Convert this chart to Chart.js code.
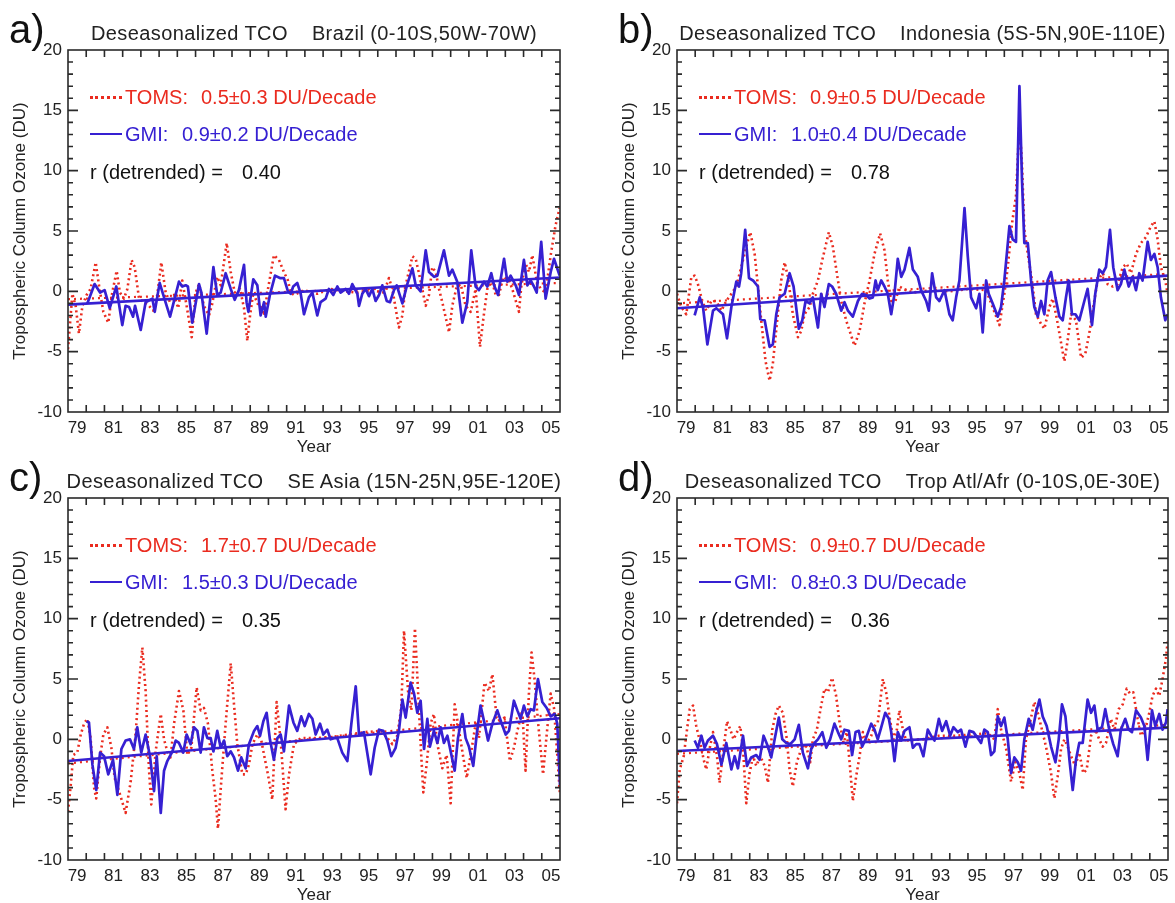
<!DOCTYPE html>
<html>
<head>
<meta charset="utf-8">
<title>Deseasonalized TCO</title>
<script src="https://cdn.jsdelivr.net/npm/chart.js@4.4.1/dist/chart.umd.min.js"></script>
<style>
  html, body { margin: 0; padding: 0; background: #fff; }
  #page { position: relative; width: 1175px; height: 903px; overflow: hidden;
          font-family: "Liberation Sans", Arial, Helvetica, sans-serif; }
  canvas { position: absolute; }
  .letter { position: absolute; font-size: 40px; line-height: 40px; color: #111; }
  .title { position: absolute; font-size: 20px; line-height: 24px; color: #222; white-space: pre;
           transform: translateX(-50%); letter-spacing: 0.4px; }
  .title span + span { margin-left: 24px; }
  .txt { position: absolute; font-size: 20px; line-height: 24px; height: 24px; white-space: pre; }
  .sample { position: absolute; width: 32px; height: 0; }
</style>
</head>
<body>
<div id="page"></div>
<script>
// x axis: tick labels sit in the middle of the year
var xTickPos = [1979.5, 1981.5, 1983.5, 1985.5, 1987.5, 1989.5, 1991.5, 1993.5, 1995.5, 1997.5, 1999.5, 2001.5, 2003.5, 2005.5];
var xTickText = ['79', '81', '83', '85', '87', '89', '91', '93', '95', '97', '99', '01', '03', '05'];

// a) Brazil
var brazilGmi = [[1980.06,-1.0],[1980.46,0.6],[1980.76,-0.1],[1981.01,0.1],[1981.29,-1.4],[1981.65,0.4],[1981.98,-2.8],[1982.16,-1.2],[1982.35,-1.3],[1982.57,-2.1],[1982.68,-1.2],[1982.99,-3.2],[1983.26,-0.9],[1983.63,-0.6],[1983.76,-1.7],[1984.03,0.7],[1984.27,-0.5],[1984.6,-2.1],[1985.09,0.8],[1985.27,0.4],[1985.46,0.5],[1985.58,0.4],[1985.82,-2.6],[1986.19,0.6],[1986.32,-0.1],[1986.61,-3.5],[1986.98,2.0],[1987.19,-0.3],[1987.38,-0.1],[1987.65,1.5],[1987.93,0.2],[1988.15,-0.7],[1988.38,0.1],[1988.66,2.2],[1988.8,-0.9],[1988.9,-1.7],[1989.17,1.0],[1989.39,0.5],[1989.57,-2.0],[1989.76,-0.9],[1989.85,-2.1],[1990.08,-0.3],[1990.36,1.3],[1990.63,1.1],[1990.85,1.1],[1991.07,0],[1991.22,-0.2],[1991.36,0.4],[1991.58,0.7],[1991.77,-0.2],[1991.95,-1.9],[1992.22,-0.5],[1992.41,-0.1],[1992.68,-2.0],[1992.86,-0.9],[1993.14,-0.6],[1993.32,0.2],[1993.56,-0.3],[1993.78,0.4],[1993.96,-0.1],[1994.24,0.2],[1994.42,-0.2],[1994.6,0.6],[1994.88,-0.2],[1994.97,-1.2],[1995.15,-0.2],[1995.33,0.2],[1995.52,-0.4],[1995.7,0.2],[1995.88,-0.8],[1996.07,-0.3],[1996.25,0.5],[1996.49,-0.8],[1996.67,-0.9],[1996.89,0.1],[1997.04,0.5],[1997.35,-1.0],[1997.62,0.6],[1997.9,1.9],[1998.08,0.5],[1998.35,0],[1998.63,3.4],[1998.81,1.6],[1999.09,1.2],[1999.27,1.3],[1999.63,3.4],[1999.91,1.3],[2000.09,1.8],[2000.36,0.8],[2000.64,-2.6],[2000.91,-0.9],[2001.13,3.4],[2001.37,0.4],[2001.55,0.1],[2001.83,0.8],[2002.01,0.4],[2002.23,1.5],[2002.38,0.5],[2002.6,-0.3],[2002.93,2.7],[2003.11,0.8],[2003.29,1.3],[2003.57,0.5],[2003.75,-0.3],[2004.02,2.6],[2004.21,0.5],[2004.39,0.9],[2004.57,0.4],[2004.72,-0.1],[2004.97,4.1],[2005.21,-0.6],[2005.49,1.6],[2005.67,2.7],[2005.98,1.3]];
var brazilToms = [[1979.0,-4.8],[1979.24,-0.2],[1979.42,-1.2],[1979.6,-3.5],[1979.79,-1.2],[1980.02,-0.3],[1980.24,0.2],[1980.52,2.4],[1980.7,0.5],[1980.94,-1.7],[1981.21,-2.6],[1981.43,-0.1],[1981.67,1.7],[1981.85,-0.1],[1982.07,-0.6],[1982.26,0.2],[1982.49,2.6],[1982.66,2.0],[1982.9,-0.6],[1983.17,-0.9],[1983.44,-1.2],[1983.68,-1.6],[1983.9,-0.3],[1984.12,2.4],[1984.36,-0.1],[1984.6,-0.9],[1984.82,-0.3],[1985.05,-1.4],[1985.27,0.9],[1985.51,-1.2],[1985.79,-3.8],[1986.01,-0.1],[1986.19,0.6],[1986.46,-1.2],[1986.74,-2.0],[1986.92,-1.0],[1987.19,1.2],[1987.38,0.5],[1987.71,4.0],[1987.93,1.6],[1988.15,-0.1],[1988.44,0.2],[1988.66,-1.4],[1988.84,-4.1],[1988.99,-2.0],[1989.17,-0.1],[1989.39,-1.0],[1989.61,-1.2],[1989.76,-2.0],[1989.94,-0.1],[1990.3,3.0],[1990.58,2.6],[1990.85,1.6],[1991.07,0.9],[1991.22,-0.1],[1991.4,-0.3],[1991.95,0.1],[1992.68,-0.2],[1993.41,0.2],[1994.15,0],[1994.88,-0.1],[1995.61,0.1],[1996.34,-0.1],[1996.61,1.1],[1996.8,0.2],[1997.16,-3.0],[1997.35,-2.0],[1997.53,0.5],[1997.9,2.9],[1998.08,2.7],[1998.26,1.5],[1998.44,0.2],[1998.63,-1.2],[1998.81,-0.3],[1998.99,2.0],[1999.18,1.6],[1999.36,0.2],[1999.54,-0.9],[1999.91,-3.4],[2000.09,-1.2],[2000.33,0.4],[2000.55,0.6],[2000.82,-1.2],[2001.1,-1.7],[2001.37,0.2],[2001.61,-4.6],[2001.79,-2.3],[2002.01,0.2],[2002.28,0.8],[2002.47,-0.3],[2002.65,-0.3],[2002.89,1.2],[2003.2,0.9],[2003.38,0.2],[2003.75,-1.7],[2003.88,0.5],[2004.11,2.3],[2004.3,1.6],[2004.48,3.0],[2004.72,0.9],[2004.94,0.2],[2005.21,-0.1],[2005.49,3.0],[2005.76,5.5],[2005.98,6.9]];
var brazilGmiTrend = [[1979, -1.1], [2006, 1.15]];
var brazilTomsTrend = [[1979, -0.65], [2006, 0.7]];

// b) Indonesia
var indonesiaGmi = [[1979.97,-2.0],[1980.25,-0.5],[1980.43,-1.3],[1980.67,-4.4],[1980.98,-1.6],[1981.16,-1.4],[1981.53,-1.9],[1981.75,-3.9],[1981.99,-1.3],[1982.26,0.8],[1982.41,0.4],[1982.53,1.5],[1982.75,5.1],[1982.96,1.1],[1983.18,0.9],[1983.45,0.4],[1983.58,-2.3],[1983.82,-2.4],[1984.09,-4.6],[1984.27,-4.4],[1984.46,-1.9],[1984.64,-0.5],[1984.92,-0.2],[1985.19,1.5],[1985.41,0.4],[1985.7,-3.1],[1985.89,-2.4],[1986.07,-0.8],[1986.29,-1.0],[1986.47,-0.5],[1986.75,-3.0],[1986.93,-0.2],[1987.11,-1.3],[1987.35,0.6],[1987.53,0.4],[1987.75,-0.2],[1988.03,-1.6],[1988.21,-0.9],[1988.4,-1.6],[1988.67,-2.1],[1988.95,-0.8],[1989.18,-0.2],[1989.4,-0.3],[1989.59,-0.6],[1989.77,-0.5],[1989.92,0.9],[1990.04,0.1],[1990.23,0.9],[1990.41,0.4],[1990.59,-0.2],[1990.78,-1.9],[1990.96,-0.2],[1991.14,2.7],[1991.33,1.2],[1991.51,1.8],[1991.78,3.6],[1991.97,1.8],[1992.24,1.2],[1992.42,0.1],[1992.7,-0.8],[1992.85,-1.6],[1993.03,1.5],[1993.25,-0.5],[1993.43,-0.8],[1993.71,0.1],[1993.98,-1.9],[1994.16,-2.4],[1994.35,-0.5],[1994.53,0.9],[1994.81,6.9],[1994.99,2.9],[1995.17,-0.5],[1995.45,-1.4],[1995.63,-0.2],[1995.81,-3.4],[1996.0,0.9],[1996.14,-0.2],[1996.36,-1.0],[1996.64,-2.1],[1996.82,-1.3],[1997.0,0.9],[1997.28,5.4],[1997.46,4.3],[1997.64,4.1],[1997.83,17.0],[1997.97,9.3],[1998.1,4.0],[1998.29,4.0],[1998.47,0.9],[1998.65,-1.3],[1998.84,-2.1],[1999.02,-0.8],[1999.2,-1.9],[1999.38,0.9],[1999.57,1.6],[1999.81,-0.5],[2000.03,-2.1],[2000.21,-2.4],[2000.39,-0.5],[2000.54,0.9],[2000.72,-1.9],[2000.91,-1.9],[2001.12,-2.4],[2001.4,-0.8],[2001.58,0.2],[2001.82,-2.8],[2002.0,-0.2],[2002.22,1.8],[2002.41,1.5],[2002.59,2.0],[2002.81,5.1],[2002.99,2.0],[2003.23,0.1],[2003.41,0.6],[2003.6,1.8],[2003.84,0.4],[2004.05,1.2],[2004.24,0.1],[2004.42,1.5],[2004.6,0.9],[2004.88,4.1],[2005.06,2.6],[2005.25,3.1],[2005.43,2.0],[2005.61,-0.5],[2005.85,-2.4],[2005.98,-1.9]];
var indonesiaToms = [[1979.0,-0.2],[1979.24,-1.3],[1979.51,-1.9],[1979.79,1.2],[1979.97,1.3],[1980.15,0.6],[1980.39,-0.8],[1980.61,-1.6],[1980.89,-0.8],[1981.16,-0.8],[1981.44,-1.6],[1981.71,-0.8],[1981.99,-0.2],[1982.26,0.4],[1982.53,2.0],[1982.81,3.7],[1983.03,4.9],[1983.27,3.1],[1983.45,0.4],[1983.63,-2.4],[1983.87,-5.8],[1984.09,-7.4],[1984.27,-6.0],[1984.49,-2.7],[1984.73,0.9],[1984.92,2.4],[1985.1,1.2],[1985.37,-1.9],[1985.65,-3.8],[1985.83,-3.3],[1986.01,-1.9],[1986.29,-1.3],[1986.47,-0.2],[1986.75,0.9],[1986.99,2.6],[1987.35,4.9],[1987.57,3.7],[1987.79,1.5],[1988.03,-0.8],[1988.3,-2.4],[1988.76,-4.5],[1989.04,-3.3],[1989.31,-1.0],[1989.59,0.9],[1989.86,3.1],[1990.17,4.8],[1990.41,3.4],[1990.59,0.9],[1990.78,-0.8],[1991.01,-0.8],[1991.23,0.4],[1991.6,0.1],[1991.97,-0.1],[1993.0,0.1],[1994.0,0.0],[1995.0,0.2],[1996.0,0.1],[1996.73,-2.8],[1997.0,-0.2],[1997.19,2.0],[1997.42,5.6],[1997.64,7.9],[1997.83,14.0],[1997.97,10.6],[1998.1,5.1],[1998.29,3.1],[1998.52,0.9],[1998.74,-1.9],[1999.02,-2.7],[1999.2,-3.1],[1999.48,-1.3],[1999.66,-0.6],[1999.84,-1.9],[2000.03,-3.5],[2000.3,-5.8],[2000.48,-4.1],[2000.67,-1.9],[2000.94,-2.4],[2001.22,-5.5],[2001.45,-5.2],[2001.67,-3.5],[2001.89,-1.3],[2002.13,0.9],[2002.41,1.5],[2002.68,0.6],[2002.96,0.4],[2003.23,0.6],[2003.51,2.0],[2003.73,2.3],[2003.96,1.5],[2004.24,3.1],[2004.51,4.0],[2004.79,4.5],[2005.06,5.4],[2005.25,5.8],[2005.43,4.3],[2005.61,2.0],[2005.85,0.9],[2005.98,-0.2]];
var indonesiaGmiTrend = [[1979, -1.4], [2006, 1.3]];
var indonesiaTomsTrend = [[1979, -1.0], [2006, 1.45]];

// c) SE Asia
var seAsiaGmi = [[1980.02,1.5],[1980.15,1.4],[1980.34,-2.1],[1980.55,-4.2],[1980.76,-1.1],[1980.98,-1.4],[1981.21,-2.9],[1981.47,-1.7],[1981.71,-4.6],[1981.93,-0.8],[1982.16,-0.1],[1982.4,0],[1982.62,-0.8],[1982.8,1.0],[1983.02,-1.1],[1983.26,0.4],[1983.5,-1.4],[1983.72,-4.3],[1983.87,-1.4],[1984.09,-6.1],[1984.27,-2.6],[1984.45,-1.8],[1984.73,-1.0],[1984.91,-0.1],[1985.09,-0.3],[1985.33,-1.1],[1985.51,0.4],[1985.73,-0.4],[1985.91,1.0],[1986.1,0.7],[1986.28,-1.1],[1986.46,1.0],[1986.65,0.1],[1986.83,0.1],[1986.98,-1.0],[1987.19,0.7],[1987.38,-0.7],[1987.56,-0.1],[1987.74,-1.4],[1987.93,-1.0],[1988.11,-1.5],[1988.33,-2.6],[1988.51,-1.5],[1988.75,-2.4],[1988.93,-0.4],[1989.21,0.7],[1989.39,1.1],[1989.54,0.3],[1989.72,1.5],[1989.9,2.2],[1990.08,0],[1990.3,-1.7],[1990.49,0.1],[1990.67,0.4],[1990.85,-1.0],[1991.13,2.8],[1991.37,1.4],[1991.58,0.7],[1991.8,1.9],[1991.99,1.1],[1992.22,2.1],[1992.41,1.7],[1992.59,0.4],[1992.83,1.3],[1993.01,0.4],[1993.23,0.8],[1993.41,0],[1993.6,0.1],[1993.78,0.1],[1994.05,-1.1],[1994.33,-1.8],[1994.55,1.3],[1994.79,4.4],[1994.97,0.4],[1995.24,0.6],[1995.61,-2.9],[1995.83,-0.7],[1996.07,0.8],[1996.3,0.7],[1996.52,-0.1],[1996.74,-1.4],[1996.98,-0.7],[1997.16,0.7],[1997.35,3.3],[1997.53,1.8],[1997.8,4.7],[1997.99,3.8],[1998.17,2.2],[1998.35,3.2],[1998.54,-0.8],[1998.72,1.7],[1998.86,-0.6],[1999.08,0.7],[1999.27,-0.3],[1999.45,1.0],[1999.63,-0.3],[1999.82,0.3],[2000.0,-1.0],[2000.22,-2.6],[2000.4,0.1],[2000.64,2.1],[2000.82,0.1],[2001.0,-0.6],[2001.24,-2.2],[2001.43,0.4],[2001.64,2.8],[2001.86,1.3],[2002.05,-0.1],[2002.29,1.3],[2002.56,2.4],[2002.78,1.4],[2003.02,0.4],[2003.2,0.7],[2003.47,3.2],[2003.66,2.4],[2003.84,1.7],[2004.02,2.8],[2004.21,1.9],[2004.39,2.5],[2004.57,2.4],[2004.79,5.0],[2005.03,3.1],[2005.27,2.6],[2005.49,1.9],[2005.71,2.1],[2005.85,1.3],[2006.0,-3.8]];
var seAsiaToms = [[1979.0,-6.0],[1979.15,-3.8],[1979.29,-1.3],[1979.51,-1.1],[1979.7,0.4],[1979.88,1.3],[1980.06,1.7],[1980.24,0.1],[1980.43,-4.0],[1980.55,-4.9],[1980.76,-1.5],[1980.94,0.4],[1981.16,1.0],[1981.38,-0.7],[1981.56,-3.2],[1981.8,-4.3],[1982.16,-6.1],[1982.44,-3.5],[1982.71,0.4],[1982.9,4.6],[1983.08,7.6],[1983.26,4.0],[1983.44,-2.4],[1983.57,-5.4],[1983.81,-1.0],[1984.09,2.1],[1984.27,0],[1984.45,-1.0],[1984.63,-1.5],[1984.82,1.3],[1985.09,4.0],[1985.33,2.4],[1985.55,-1.3],[1985.77,-0.7],[1986.06,4.3],[1986.28,2.4],[1986.46,2.6],[1986.68,1.3],[1986.92,-2.6],[1987.1,-4.9],[1987.23,-7.4],[1987.41,-3.5],[1987.65,1.3],[1987.93,6.3],[1988.11,2.9],[1988.29,-0.4],[1988.57,-2.9],[1988.75,-2.9],[1988.93,-2.1],[1989.12,-0.4],[1989.39,0.4],[1989.61,-0.1],[1989.76,-1.3],[1989.97,-2.9],[1990.21,-5.0],[1990.45,3.1],[1990.67,-0.1],[1990.94,-5.8],[1991.13,-2.9],[1991.4,-0.4],[1991.77,0.1],[1992.6,0.1],[1993.5,0.2],[1994.4,0.4],[1995.3,0.6],[1996.2,0.7],[1996.8,-0.4],[1997.07,0.3],[1997.29,2.6],[1997.44,9.0],[1997.66,4.0],[1997.84,2.4],[1998.04,9.2],[1998.21,4.0],[1998.39,-1.5],[1998.5,-4.4],[1998.68,-2.1],[1998.9,1.3],[1999.08,2.1],[1999.27,-0.4],[1999.54,-2.4],[1999.78,-1.3],[2000.0,-5.3],[2000.22,2.9],[2000.4,1.3],[2000.64,-1.0],[2000.88,-3.2],[2001.13,-1.0],[2001.37,1.3],[2001.55,0.1],[2001.86,4.7],[2002.1,4.0],[2002.29,5.4],[2002.52,1.8],[2002.71,1.5],[2002.96,1.8],[2003.25,-1.8],[2003.47,-0.7],[2003.66,0.7],[2003.93,2.4],[2004.11,-2.6],[2004.3,4.0],[2004.44,7.2],[2004.61,4.9],[2004.79,1.5],[2005.07,-2.9],[2005.27,0.4],[2005.49,3.8],[2005.67,2.6],[2005.85,-1.3],[2006.0,-4.6]];
var seAsiaGmiTrend = [[1979, -1.8], [2006, 1.75]];
var seAsiaTomsTrend = [[1979, -2.0], [2006, 2.1]];

// d) Trop Atl/Afr
var atlAfrGmi = [[1979.97,-0.1],[1980.15,-0.7],[1980.34,0.3],[1980.52,-0.7],[1980.7,-0.1],[1980.98,0.3],[1981.2,-0.4],[1981.44,-2.1],[1981.71,-0.3],[1981.99,-2.5],[1982.17,-1.4],[1982.35,-2.4],[1982.63,0.3],[1982.85,-2.2],[1983.08,-1.5],[1983.36,-1.3],[1983.54,-1.7],[1983.76,0.3],[1984.0,-0.6],[1984.18,-1.5],[1984.37,0],[1984.6,1.8],[1984.79,0],[1985.01,-0.3],[1985.23,-0.4],[1985.47,0],[1985.7,1.2],[1985.92,-1.1],[1986.2,-2.4],[1986.38,-0.8],[1986.56,-0.3],[1986.75,0],[1986.99,0.6],[1987.21,-0.7],[1987.42,0],[1987.66,1.3],[1987.85,0.6],[1988.03,0],[1988.21,0.8],[1988.45,0.7],[1988.63,-1.3],[1988.82,0.6],[1989.0,0.7],[1989.18,-0.6],[1989.37,0],[1989.68,1.3],[1989.86,0.8],[1990.04,0],[1990.23,1.0],[1990.45,2.2],[1990.65,1.7],[1990.78,0.6],[1990.96,-1.8],[1991.14,0.6],[1991.33,-0.1],[1991.51,0.7],[1991.78,1.0],[1991.97,-0.7],[1992.15,-0.4],[1992.33,-0.4],[1992.55,-1.4],[1992.79,0.8],[1992.97,0.3],[1993.16,-0.1],[1993.4,1.7],[1993.58,0.7],[1993.8,1.5],[1994.02,0.3],[1994.2,1.0],[1994.44,0.6],[1994.62,0.8],[1994.86,-0.6],[1995.08,0.7],[1995.3,0.6],[1995.54,0.1],[1995.72,-0.3],[1995.9,0.8],[1996.09,0.6],[1996.27,-1.3],[1996.45,-1.0],[1996.64,1.9],[1996.82,1.1],[1997.0,1.8],[1997.19,0],[1997.37,-2.8],[1997.55,-1.5],[1997.74,-1.9],[1997.92,-2.6],[1998.1,0],[1998.34,1.7],[1998.56,0.8],[1998.74,2.2],[1998.93,3.3],[1999.11,1.9],[1999.33,1.1],[1999.57,-0.6],[1999.81,-1.9],[1999.99,0],[2000.17,2.9],[2000.36,1.9],[2000.58,-1.7],[2000.76,-4.2],[2000.94,-1.7],[2001.12,-0.3],[2001.31,-0.3],[2001.58,3.3],[2001.77,2.2],[2001.95,2.8],[2002.13,0.8],[2002.37,1.0],[2002.55,2.5],[2002.77,0.8],[2002.99,-0.4],[2003.23,-1.4],[2003.41,0.8],[2003.65,1.7],[2003.84,0.8],[2004.02,0.6],[2004.24,2.4],[2004.51,1.8],[2004.7,1.1],[2004.88,-1.7],[2005.12,2.4],[2005.3,1.1],[2005.52,2.1],[2005.7,0.8],[2005.89,1.4],[2005.98,2.5]];
var atlAfrToms = [[1979.0,-5.3],[1979.15,-2.5],[1979.37,-1.4],[1979.55,0.8],[1979.7,2.5],[1979.88,2.8],[1980.06,1.1],[1980.28,-0.3],[1980.47,-1.7],[1980.61,-2.5],[1980.79,-0.8],[1980.98,0.6],[1981.2,-1.4],[1981.34,-3.6],[1981.56,-0.8],[1981.75,1.5],[1981.93,0.8],[1982.11,0],[1982.3,0.6],[1982.48,1.1],[1982.63,-0.8],[1982.81,-5.3],[1982.99,-2.8],[1983.18,-1.4],[1983.36,-2.2],[1983.58,-1.4],[1983.82,-2.2],[1984.0,-3.6],[1984.24,0.8],[1984.42,2.1],[1984.6,2.8],[1984.82,2.2],[1985.04,0],[1985.19,-2.5],[1985.37,-3.9],[1985.59,-1.9],[1985.83,-0.8],[1986.11,-0.6],[1986.33,-1.9],[1986.47,0],[1986.69,0.8],[1986.93,2.8],[1987.11,4.2],[1987.3,3.9],[1987.53,5.1],[1987.75,3.6],[1987.94,1.4],[1988.16,-0.3],[1988.34,0.6],[1988.49,-1.9],[1988.67,-5.1],[1988.85,-3.1],[1989.04,-1.4],[1989.22,0.6],[1989.44,-0.3],[1989.68,0.3],[1989.86,1.1],[1990.04,1.4],[1990.32,5.0],[1990.5,3.9],[1990.68,1.9],[1990.9,0],[1991.09,0.8],[1991.23,2.4],[1991.42,0.8],[1991.6,-0.1],[1992.5,0.0],[1993.4,0.3],[1994.3,0.3],[1995.2,0.4],[1996.1,0.5],[1996.45,0],[1996.64,2.5],[1996.82,0.8],[1997.1,-0.8],[1997.37,-3.5],[1997.61,-1.9],[1997.83,-2.8],[1998.01,-4.2],[1998.19,0],[1998.47,1.8],[1998.65,3.1],[1998.84,2.2],[1999.07,0.8],[1999.29,-0.6],[1999.57,-2.8],[1999.75,-4.9],[1999.93,-3.1],[2000.12,-0.8],[2000.3,0],[2000.48,-0.6],[2000.67,-1.4],[2000.9,-2.2],[2001.12,-1.1],[2001.34,-2.8],[2001.53,-2.5],[2001.77,0.3],[2002.0,0.8],[2002.22,0],[2002.41,-0.6],[2002.59,-0.3],[2002.86,1.7],[2003.05,0.8],[2003.29,2.5],[2003.51,2.9],[2003.73,4.2],[2003.91,3.8],[2004.09,3.9],[2004.33,1.7],[2004.51,0.3],[2004.75,0.8],[2004.97,2.2],[2005.15,3.6],[2005.34,4.2],[2005.52,3.6],[2005.7,5.0],[2005.89,6.7],[2005.98,8.1]];
var atlAfrGmiTrend = [[1979, -0.97], [2006, 0.97]];
var atlAfrTomsTrend = [[1979, -1.2], [2006, 1.2]];

var red = '#ea2b1f';
var blue = '#3620d2';
var ink = '#222';

var panels = [
    { letter: 'a)', region: 'Brazil (0-10S,50W-70W)', left: 68, top: 50, w: 492,
      toms: '0.5±0.3 DU/Decade', gmi: '0.9±0.2 DU/Decade', r: '0.40',
      gmiData: brazilGmi, tomsData: brazilToms, gmiTrend: brazilGmiTrend, tomsTrend: brazilTomsTrend },
    { letter: 'b)', region: 'Indonesia (5S-5N,90E-110E)', left: 677, top: 50, w: 491,
      toms: '0.9±0.5 DU/Decade', gmi: '1.0±0.4 DU/Decade', r: '0.78',
      gmiData: indonesiaGmi, tomsData: indonesiaToms, gmiTrend: indonesiaGmiTrend, tomsTrend: indonesiaTomsTrend },
    { letter: 'c)', region: 'SE Asia (15N-25N,95E-120E)', left: 68, top: 498, w: 492,
      toms: '1.7±0.7 DU/Decade', gmi: '1.5±0.3 DU/Decade', r: '0.35',
      gmiData: seAsiaGmi, tomsData: seAsiaToms, gmiTrend: seAsiaGmiTrend, tomsTrend: seAsiaTomsTrend },
    { letter: 'd)', region: 'Trop Atl/Afr (0-10S,0E-30E)', left: 677, top: 498, w: 491,
      toms: '0.9±0.7 DU/Decade', gmi: '0.8±0.3 DU/Decade', r: '0.36',
      gmiData: atlAfrGmi, tomsData: atlAfrToms, gmiTrend: atlAfrGmiTrend, tomsTrend: atlAfrTomsTrend }
];

Chart.defaults.font.family = '"Liberation Sans", Arial, Helvetica, sans-serif';
Chart.defaults.color = ink;

// box round the plot with inward ticks on all four sides (IDL style)
var boxTicks = {
    id: 'boxTicks',
    afterDraw: function(chart) {
        var ctx = chart.ctx, a = chart.chartArea;
        var x = chart.scales.x, y = chart.scales.y;
        ctx.save();
        ctx.strokeStyle = '#2a2a2a';
        ctx.lineWidth = 1.6;
        ctx.strokeRect(a.left, a.top, a.right - a.left, a.bottom - a.top);
        ctx.beginPath();
        for (var v = y.min + 1; v < y.max; v++) {
            var py = y.getPixelForValue(v);
            var len = (v % 5 === 0) ? 10 : 5;
            ctx.moveTo(a.left, py); ctx.lineTo(a.left + len, py);
            ctx.moveTo(a.right, py); ctx.lineTo(a.right - len, py);
        }
        for (var yr = x.min + 1; yr < x.max; yr++) {
            var px = x.getPixelForValue(yr);
            ctx.moveTo(px, a.bottom); ctx.lineTo(px, a.bottom - 7);
            ctx.moveTo(px, a.top); ctx.lineTo(px, a.top + 7);
        }
        ctx.stroke();
        ctx.restore();
    }
};

var page = document.getElementById('page');

function addText(cls, text, left, top, color) {
    var el = document.createElement('div');
    el.className = cls;
    el.textContent = text;
    el.style.left = left + 'px';
    el.style.top = top + 'px';
    if (color) el.style.color = color;
    page.appendChild(el);
    return el;
}

function addSample(left, centerY, style) {
    var el = document.createElement('div');
    el.className = 'sample';
    el.style.left = left + 'px';
    el.style.top = (centerY - 1) + 'px';
    el.style.borderTop = style;
    page.appendChild(el);
}

panels.forEach(function(p) {
    var canvas = document.createElement('canvas');
    canvas.width = 68 + p.w + 8;
    canvas.height = 50 + 362 + 46;
    canvas.style.left = (p.left - 68) + 'px';
    canvas.style.top = (p.top - 50) + 'px';
    page.appendChild(canvas);

    new Chart(canvas, {
        type: 'line',
        data: {
            datasets: [
                { label: 'GMI', data: p.gmiData, borderColor: blue, borderWidth: 2.7 },
                { label: 'GMI trend', data: p.gmiTrend, borderColor: blue, borderWidth: 2.6 },
                { label: 'TOMS', data: p.tomsData, borderColor: red, borderWidth: 2.6, borderDash: [2, 3.2] },
                { label: 'TOMS trend', data: p.tomsTrend, borderColor: red, borderWidth: 2.2, borderDash: [2, 4] }
            ]
        },
        options: {
            responsive: false,
            animation: false,
            events: [],
            layout: { padding: { top: 50, right: 8, left: 0, bottom: 0 } },
            elements: { point: { radius: 0 }, line: { tension: 0, fill: false, borderJoinStyle: 'round' } },
            plugins: { legend: { display: false }, tooltip: { enabled: false } },
            scales: {
                x: {
                    type: 'linear',
                    min: 1979,
                    max: 2006,
                    grid: { display: false, drawTicks: false },
                    border: { display: false },
                    afterBuildTicks: function(scale) {
                        scale.ticks = xTickPos.map(function(v) { return { value: v }; });
                    },
                    afterFit: function(scale) { scale.height = 46; },
                    ticks: {
                        autoSkip: false,
                        maxRotation: 0,
                        padding: 6,
                        font: { size: 17 },
                        callback: function(value, index) { return xTickText[index]; }
                    },
                    title: { display: true, text: 'Year', font: { size: 17 }, padding: { top: 0, bottom: 0 } }
                },
                y: {
                    min: -10,
                    max: 20,
                    grid: { display: false, drawTicks: false },
                    border: { display: false },
                    afterFit: function(scale) { scale.width = 68; },
                    ticks: { stepSize: 5, padding: 6, font: { size: 17 } },
                    title: { display: true, text: 'Tropospheric Column Ozone (DU)', font: { size: 17 }, padding: { top: 10, bottom: 0 } }
                }
            }
        },
        plugins: [boxTicks]
    });

    // panel letter and title
    addText('letter', p.letter, p.left - 59, p.top - 41);
    var title = document.createElement('div');
    title.className = 'title';
    title.style.left = (p.left + p.w / 2) + 'px';
    title.style.top = (p.top - 29) + 'px';
    var t1 = document.createElement('span');
    t1.textContent = 'Deseasonalized TCO';
    var t2 = document.createElement('span');
    t2.textContent = p.region;
    title.appendChild(t1);
    title.appendChild(t2);
    page.appendChild(title);

    // legend inside the plot
    addSample(p.left + 22, p.top + 47, '3px dotted ' + red);
    addText('txt', 'TOMS:', p.left + 57, p.top + 47 - 12, red);
    addText('txt', p.toms, p.left + 133, p.top + 47 - 12, red);
    addSample(p.left + 22, p.top + 84, '2.5px solid ' + blue);
    addText('txt', 'GMI:', p.left + 57, p.top + 84 - 12, blue);
    addText('txt', p.gmi, p.left + 114, p.top + 84 - 12, blue);
    addText('txt', 'r (detrended) =', p.left + 22, p.top + 122 - 12, '#111');
    addText('txt', p.r, p.left + 174, p.top + 122 - 12, '#111');
});
</script>
</body>
</html>
